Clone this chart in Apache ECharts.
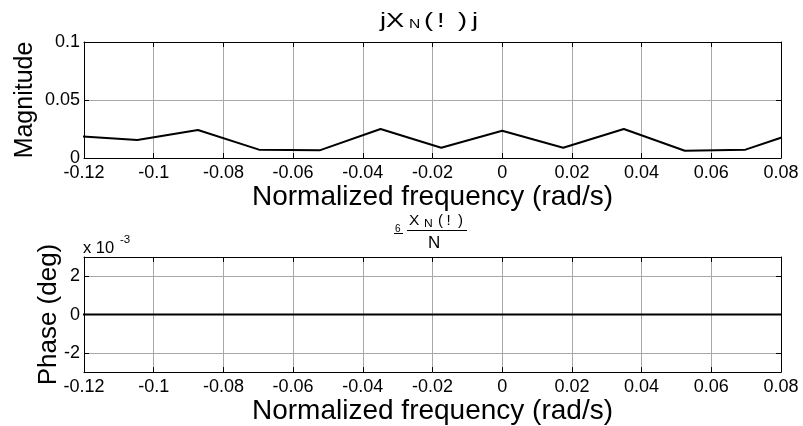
<!DOCTYPE html>
<html>
<head>
    <meta charset="utf-8">
    <script src="https://cdn.jsdelivr.net/npm/echarts@6/dist/echarts.min.js"></script>
    <style>
        html, body { margin: 0; padding: 0; background: #fff; }
        #chart { width: 803px; height: 426px; }
    </style>
</head>
<body>
<div id="chart"></div>
<script type="text/javascript">
    // frequencies of the DFT bins (rad/s)
    var freqs = [-0.1222, -0.1047, -0.0873, -0.0698, -0.0524, -0.0349, -0.0175, 0, 0.0175, 0.0349, 0.0524, 0.0698, 0.0873];
    // |X_N(w)|
    var magnitude = [0.0188, 0.0155, 0.0241, 0.0072, 0.0066, 0.025, 0.0089, 0.0235, 0.0089, 0.025, 0.0063, 0.0072, 0.0248];
    // phase in units of 1e-3 deg
    var phase = [0, 0, 0, 0, 0, 0, 0, 0, 0, 0, 0, 0, 0];
    var phaseTicks = [-2, 0, 2];

    var FONT = 'Liberation Sans';

    function pairs(xs, ys) {
        return xs.map(function (x, i) { return [x, ys[i]]; });
    }

    function xAxisFor(grid, showLabels) {
        return {
            type: 'value', gridIndex: grid, min: -0.12, max: 0.08, interval: 0.02,
            position: showLabels ? 'bottom' : 'top',
            name: showLabels ? 'Normalized frequency (rad/s)' : '',
            nameLocation: 'middle', nameGap: 21,
            nameTextStyle: { fontFamily: FONT, fontSize: 28, color: '#000', verticalAlign: 'top' },
            axisLine: { show: true, onZero: false, lineStyle: { color: '#000', width: 1 } },
            axisTick: { show: true, inside: true, length: 5, lineStyle: { color: '#000' } },
            axisLabel: {
                show: showLabels, fontFamily: FONT, fontSize: 18, color: '#000', margin: 6,
                formatter: function (v) { return String(+v.toFixed(2)); }
            },
            splitLine: { show: showLabels, lineStyle: { color: '#a8a8a8', width: 1 } }
        };
    }

    function rightAxis(grid, min, max, interval, custom) {
        return {
            type: 'value', gridIndex: grid, min: min, max: max, interval: interval, position: 'right',
            axisLine: { show: true, onZero: false, lineStyle: { color: '#000' } },
            axisTick: { show: true, inside: true, length: 5, customValues: custom, lineStyle: { color: '#000' } },
            axisLabel: { show: false, customValues: custom },
            splitLine: { show: false }
        };
    }

    // plain text placed by its left edge and vertical middle
    function txt(x, y, s, size, sx) {
        return {
            type: 'text', x: x, y: y, scaleX: sx || 1,
            style: { text: s, fontFamily: FONT, fontSize: size, fill: '#000', align: 'left', verticalAlign: 'middle' }
        };
    }

    var option = {
        backgroundColor: '#fff',
        animation: false,
        grid: [
            { left: 84, right: 22, top: 42, height: 116 },
            { left: 84, right: 22, top: 257, height: 116 }
        ],
        xAxis: [
            xAxisFor(0, true),
            xAxisFor(1, true),
            xAxisFor(0, false),
            xAxisFor(1, false)
        ],
        yAxis: [
            {
                type: 'value', gridIndex: 0, min: 0, max: 0.1, interval: 0.05,
                name: 'Magnitude', nameLocation: 'middle', nameGap: 46, nameRotate: 90, nameMoveOverlap: false,
                nameTextStyle: { fontFamily: FONT, fontSize: 25, color: '#000' },
                axisLine: { show: true, onZero: false, lineStyle: { color: '#000' } },
                axisTick: { show: true, inside: true, length: 5, lineStyle: { color: '#000' } },
                axisLabel: { fontFamily: FONT, fontSize: 18, color: '#000', margin: 4 },
                splitLine: { show: true, lineStyle: { color: '#a8a8a8', width: 1 } }
            },
            {
                type: 'value', gridIndex: 1, min: -3, max: 3, interval: 1,
                name: 'Phase (deg)', nameLocation: 'middle', nameGap: 22, nameRotate: 90, nameMoveOverlap: false,
                nameTextStyle: { fontFamily: FONT, fontSize: 26, color: '#000' },
                axisLine: { show: true, onZero: false, lineStyle: { color: '#000' } },
                axisTick: { show: true, inside: true, length: 5, customValues: phaseTicks, lineStyle: { color: '#000' } },
                axisLabel: { fontFamily: FONT, fontSize: 18, color: '#000', margin: 4, customValues: phaseTicks },
                splitLine: { show: true, lineStyle: { color: '#a8a8a8', width: 1 } }
            },
            rightAxis(0, 0, 0.1, 0.05, undefined),
            rightAxis(1, -3, 3, 1, phaseTicks)
        ],
        series: [
            {
                type: 'line', xAxisIndex: 0, yAxisIndex: 0, data: pairs(freqs, magnitude),
                showSymbol: false, clip: true, lineStyle: { color: '#000', width: 2 }
            },
            {
                type: 'line', xAxisIndex: 1, yAxisIndex: 1, data: pairs(freqs, phase),
                showSymbol: false, clip: true, lineStyle: { color: '#000', width: 2 }
            }
        ],
        graphic: [
            // top title |X_N(w)|
            txt(380, 21, 'jX', 21, 1.3),
            txt(409, 24.5, 'N', 12, 1.3),
            txt(424, 21, '(', 21, 1.3),
            txt(437, 21, '!', 21, 1.3),
            txt(458, 21, ')', 21, 1.3),
            txt(472, 21, 'j', 21, 1.3),
            // bottom title: angle X_N(w) / N
            txt(395, 229, '6', 10, 1),
            { type: 'line', shape: { x1: 394, y1: 233.5, x2: 403, y2: 233.5 }, style: { stroke: '#000', lineWidth: 1 } },
            txt(409, 221, 'X', 15.5, 1),
            txt(424, 223.5, 'N', 11, 1.1),
            txt(438, 221, '(', 15, 1),
            txt(446.5, 221, '!', 15, 1),
            txt(458, 221, ')', 15, 1),
            { type: 'line', shape: { x1: 407, y1: 230.5, x2: 467, y2: 230.5 }, style: { stroke: '#000', lineWidth: 1 } },
            txt(428, 243.5, 'N', 17, 1),
            // exponent of the phase axis
            txt(83, 248.5, 'x 10', 16.5, 1),
            txt(120, 239.5, '-3', 11.5, 1)
        ]
    };

    var chart = echarts.init(document.getElementById('chart'));
    chart.setOption(option);
</script>
</body>
</html>
